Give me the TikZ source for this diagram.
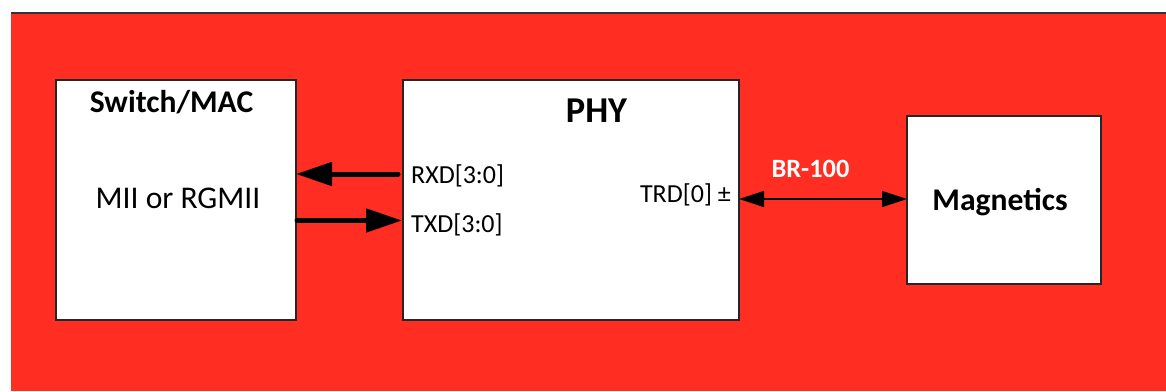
\documentclass[tikz,border=0pt]{standalone}
\usepackage{fontspec}
\setmainfont{Carlito}
\usetikzlibrary{arrows.meta}
\definecolor{bgred}{RGB}{255,45,34}
\begin{document}
\begin{tikzpicture}[x=1pt,y=-1pt,
  blk/.style={draw=black!85,line width=1.3pt,fill=white},
  boxlbl/.style={inner sep=0pt,font=\fontsize{31.6}{36}\selectfont},
  boxblbl/.style={inner sep=0pt,font=\fontsize{31.6}{36}\selectfont\bfseries},
  portlbl/.style={inner sep=0pt,font=\fontsize{26}{30}\selectfont},
  busarrow/.style={line width=5pt,line cap=round,-{Triangle[length=36pt,width=23pt]}},
  linkarrow/.style={line width=1.3pt,{Triangle[length=25pt,width=16pt]}-{Triangle[length=25pt,width=16pt]}}]
\useasboundingbox (0,0) rectangle (1166,391);
\fill[white] (0,0) rectangle (1166,391);
\fill[bgred] (11,13) rectangle (1166,391);
\draw[black!80,line width=1.5pt] (11,13) -- (1166,13);
% blocks
\draw[blk] (56,80) rectangle (296,320);
\draw[blk] (403,80) rectangle (739,320);
\draw[blk] (907,116) rectangle (1101,284);
\coordinate (macR1) at (296,174);
\coordinate (macR2) at (297,220.5);
\coordinate (phyL1) at (398,174);
\coordinate (phyL2) at (402,220.5);
\coordinate (phyR) at (739,199);
\coordinate (magL) at (907,199);
% texts
\node[boxblbl,anchor=base] (mac) at (171.5,112) {Switch/MAC};
\node[boxlbl,anchor=base] (mii) at (178,208.5) {MII or RGMII};
\node[inner sep=0pt,font=\fontsize{36.4}{42}\selectfont\bfseries,anchor=base] (phy) at (596.5,122) {PHY};
\node[portlbl,anchor=base west] (rxd) at (411,183) {RXD[3:0]};
\node[portlbl,anchor=base west] (txd) at (411,232) {TXD[3:0]};
\node[portlbl,anchor=base east] (trd) at (731,202) {TRD[0] ±};
\node[inner sep=0pt,anchor=base,text=white,font=\fontsize{26.4}{30}\selectfont\bfseries] (br) at (810.5,177.5) {BR-100};
\node[boxblbl,anchor=base] (mag) at (1000,210) {Magnetics};
% connectors
\draw[busarrow] (phyL1) -- (macR1);
\draw[busarrow] (macR2) -- (phyL2);
\draw[linkarrow] (phyR) -- (magL);
\end{tikzpicture}
\end{document}
